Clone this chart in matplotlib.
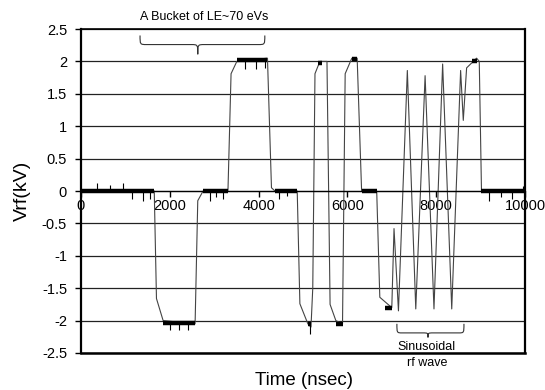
import matplotlib
matplotlib.use("Agg")
import matplotlib.pyplot as plt
from matplotlib.path import Path
from matplotlib.patches import PathPatch

plt.rcParams['font.family'] = ['Liberation Sans', 'DejaVu Sans']

# main trace, breakpoints (time in nsec, Vrf in kV)
time_ns = [0, 1650, 1700, 1850, 2570, 2630, 2750, 3310, 3380, 3510, 4200, 4290,
           4370, 4870, 4930, 5110, 5180, 5220, 5270, 5380, 5540, 5610, 5740,
           5890, 5950, 6100, 6220, 6320, 6660, 6730, 7000, 7050, 7150, 7350,
           7540, 7750, 7950, 8145, 8350, 8550, 8610, 8685, 8910, 8970, 9020, 10000]
vrf_kv = [0, 0, -1.66, -2.0, -2.05, -0.15, 0, 0, 1.81, 2.0, 2.05, 0.05,
          0, 0, -1.74, -2.05, -2.1, -1.5, 1.81, 2.0, 2.0, -1.75, -2.0,
          -2.05, 1.81, 2.05, 2.05, 0, 0, -1.64, -1.8, -0.58, -1.85, 1.86,
          -1.82, 1.78, -1.82, 1.96, -1.82, 1.86, 1.09, 1.9, 2.05, 2.0, 0, 0]

# noisy flat stretches (start, end, level)
band_start = [0, 2750, 4370, 6320, 9020, 3510, 5330, 6100, 8800, 1850, 5110, 5740, 6850]
band_end = [1650, 3310, 4870, 6660, 10000, 4200, 5420, 6220, 8910, 2570, 5180, 5890, 7000]
band_level = [0, 0, 0, 0, 0, 2.02, 1.98, 2.03, 2.0, -2.03, -2.05, -2.05, -1.8]

# single glitches sticking out of the bands
spike_t = [350, 650, 950, 1150, 1400, 1550, 2900, 3050, 3200, 4450, 4650, 9200,
           9450, 9700, 9950, 3700, 3950, 4150, 2000, 2200, 2400, 5150]
spike_from = [0, 0, 0, 0, 0, 0, 0, 0, 0, 0, 0, 0,
              0, 0, 0, 2.0, 2.0, 2.0, -2.05, -2.05, -2.05, -2.05]
spike_to = [0.12, 0.1, 0.12, -0.12, -0.15, -0.12, -0.15, -0.1, -0.12, -0.12, -0.08, -0.15,
            -0.1, -0.12, 0.08, 1.88, 1.88, 1.9, -2.15, -2.15, -2.15, -2.2]

x_ticks = [0, 2000, 4000, 6000, 8000, 10000]
y_ticks = [-2.5, -2, -1.5, -1, -0.5, 0, 0.5, 1, 1.5, 2, 2.5]


def brace(ax, xa, xb, xtip, yt, ym, yb, r):
    verts = [(xa, yt), (xa, ym), (xa, ym), (xa + r, ym),
             (xtip - r, ym),
             (xtip, ym), (xtip, ym), (xtip, yb),
             (xtip, ym), (xtip, ym), (xtip + r, ym),
             (xb - r, ym),
             (xb, ym), (xb, ym), (xb, yt)]
    codes = [Path.MOVETO, Path.CURVE4, Path.CURVE4, Path.CURVE4,
             Path.LINETO,
             Path.CURVE4, Path.CURVE4, Path.CURVE4,
             Path.CURVE4, Path.CURVE4, Path.CURVE4,
             Path.LINETO,
             Path.CURVE4, Path.CURVE4, Path.CURVE4]
    ax.add_patch(PathPatch(Path(verts, codes), fill=False, lw=0.8,
                           color='#333333', clip_on=False))


fig = plt.figure(figsize=(5.45, 3.9), dpi=100)
ax = fig.add_axes([0.1486, 0.0949, 0.8147, 0.8307])

ax.set_xlim(0, 10000)
ax.set_ylim(-2.5, 2.5)
ax.set_yticks(y_ticks)
ax.set_yticklabels(['%g' % v for v in y_ticks])
ax.yaxis.grid(True, color='#222222', lw=0.9)
ax.set_axisbelow(True)
ax.tick_params(axis='y', direction='out', length=4, width=1, pad=6, labelsize=10.5)

for s in ax.spines.values():
    s.set_linewidth(1.6)
ax.spines['top'].set_linewidth(1.2)

# time axis sits on the zero line, the box bottom is drawn separately
ax.spines['bottom'].set_position(('data', 0))
ax.spines['bottom'].set_linewidth(0.9)
ax.axhline(-2.5, color='black', lw=1.8, clip_on=False, zorder=3)
ax.set_xticks(x_ticks)
ax.set_xticklabels(['%d' % t for t in x_ticks])
ax.tick_params(axis='x', direction='out', length=4, width=1, pad=2, labelsize=10.5)

ax.plot(time_ns, vrf_kv, color='#444444', lw=0.8)
for a, b, lv in zip(band_start, band_end, band_level):
    ax.plot([a, b], [lv, lv], color='black', lw=3.2, solid_capstyle='butt')
ax.vlines(spike_t, spike_from, spike_to, color='black', lw=0.8)

ax.set_ylabel('Vrf(kV)', fontsize=14, labelpad=8)
fig.text(0.558, 0.003, 'Time (nsec)', ha='center', va='bottom', fontsize=13.5)

ax.text(2770, 2.68, 'A Bucket of LE~70 eVs', ha='center', va='center', fontsize=9)
brace(ax, 1330, 4140, 2630, 2.40, 2.26, 2.11, 150)

ax.text(7790, -2.41, 'Sinusoidal', ha='center', va='center', fontsize=9)
ax.text(7790, -2.66, 'rf wave', ha='center', va='center', fontsize=9, clip_on=False)
brace(ax, 7115, 8625, 7815, -2.05, -2.19, -2.26, 120)

fig.savefig('out.png', dpi=100)
